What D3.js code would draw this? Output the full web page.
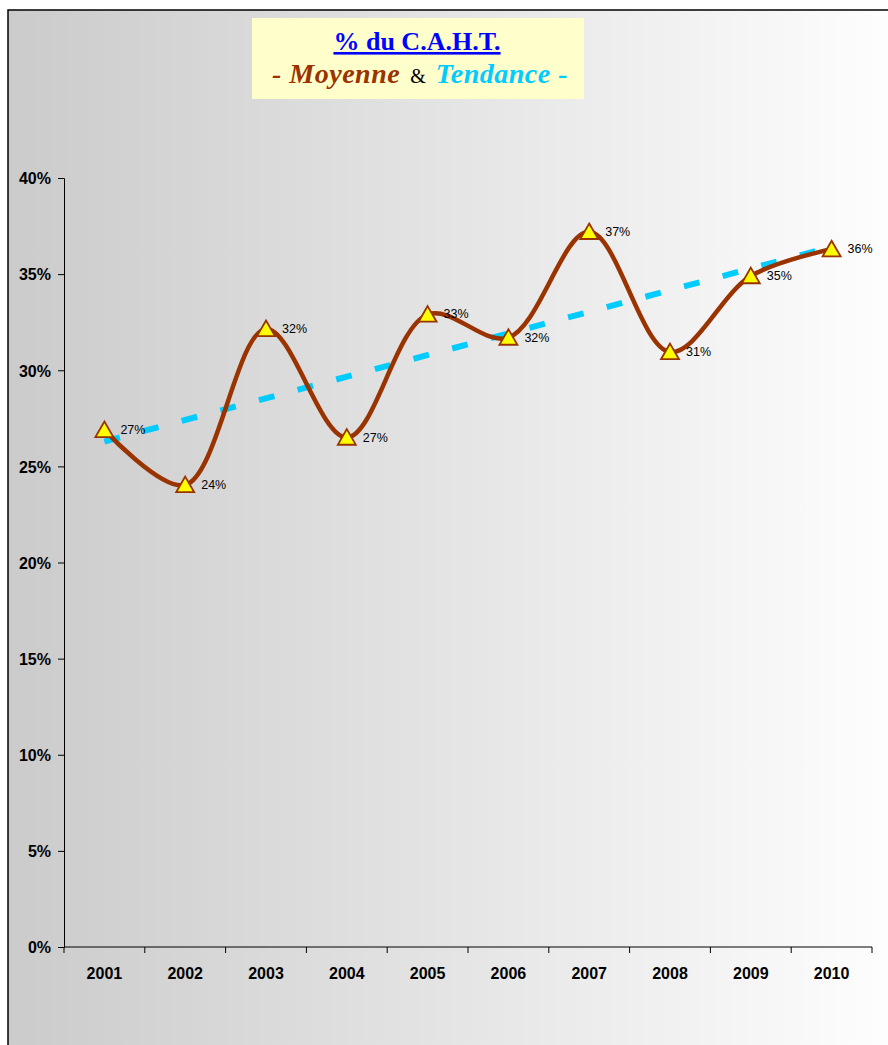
<!DOCTYPE html>
<html><head><meta charset="utf-8">
<script src="https://cdn.jsdelivr.net/npm/d3@7"></script>
<style>html,body{margin:0;padding:0;background:#fff;}svg{display:block;}</style>
</head><body>
<script>
const years = ["2001","2002","2003","2004","2005","2006","2007","2008","2009","2010"];
const values = [26.9, 24.03, 32.15, 26.5, 32.9, 31.7, 37.2, 30.95, 34.9, 36.3];
const yTicks = [0,5,10,15,20,25,30,35,40];

const W = 888, H = 1045;
const svg = d3.select("body").append("svg").attr("width", W).attr("height", H);
const defs = svg.append("defs");
const grad = defs.append("linearGradient").attr("id","bg").attr("x1","0").attr("x2","1").attr("y1","0").attr("y2","0");
grad.append("stop").attr("offset","0").attr("stop-color","#cbcbcb");
grad.append("stop").attr("offset","1").attr("stop-color","#ffffff");

svg.append("rect").attr("x",8).attr("y",10).attr("width",W+20).attr("height",H+20)
  .attr("fill","url(#bg)").attr("stroke","#000").attr("stroke-width",1.5);

const x = d3.scaleBand().domain(years).range([64, 872]);
const y = d3.scaleLinear().domain([0, 40]).range([947, 178]);

// axes
const yAxis = svg.append("g").attr("transform","translate(64,0)")
  .call(d3.axisLeft(y).tickValues(yTicks).tickSize(6).tickFormat(d => d + "%"));
yAxis.selectAll("text").attr("font-family","Arial, Liberation Sans, sans-serif").attr("font-weight","bold")
  .attr("font-size","16px").attr("fill","#000").attr("x",-13).attr("dy","0.36em");
yAxis.selectAll("line,path").attr("stroke","#000");

const xAxis = svg.append("g").attr("transform","translate(0,947)")
  .call(d3.axisBottom(x).tickSize(0).tickPadding(0));
xAxis.select("path").attr("stroke","#000").attr("d","M64,0H872");
xAxis.selectAll("text").attr("font-family","Arial, Liberation Sans, sans-serif").attr("font-weight","bold")
  .attr("font-size","16px").attr("fill","#000").attr("y",32).attr("dy",0);
// category separator ticks
svg.append("g").selectAll("line").data(years.concat(["end"])).join("line")
  .attr("x1",(d,i)=> i < years.length ? x(d) : x.range()[1])
  .attr("x2",(d,i)=> i < years.length ? x(d) : x.range()[1])
  .attr("y1",947).attr("y2",953).attr("stroke","#000");

const cx = d => x(d) + x.bandwidth()/2;

// trend line (linear regression)
const n = values.length;
const xs = values.map((v,i)=>i+1);
const mx = d3.mean(xs), my = d3.mean(values);
const slope = d3.sum(xs.map((xi,i)=>(xi-mx)*(values[i]-my))) / d3.sum(xs.map(xi=>(xi-mx)**2));
const icpt = my - slope*mx;
svg.append("line")
  .attr("x1", cx(years[0])).attr("y1", y(icpt + slope*1))
  .attr("x2", cx(years[n-1])).attr("y2", y(icpt + slope*n))
  .attr("stroke","#00CCFF").attr("stroke-width",6).attr("stroke-dasharray","16,24");

// smoothed series line
const line = d3.line().x((d,i)=>cx(years[i])).y(d=>y(d)).curve(d3.curveCatmullRom.alpha(0.5));
svg.append("path").datum(values).attr("d", line).attr("fill","none")
  .attr("stroke","#993300").attr("stroke-width",4.5);

// markers
const tri = d3.symbol().type(d3.symbolTriangle).size(140);
svg.append("g").selectAll("path").data(values).join("path")
  .attr("d", tri).attr("transform",(d,i)=>`translate(${cx(years[i])},${y(d)+2})`)
  .attr("fill","#FFFF00").attr("stroke","#993300").attr("stroke-width",1.8);

// labels
svg.append("g").selectAll("text").data(values).join("text")
  .attr("x",(d,i)=>cx(years[i])+16).attr("y",d=>y(d)+4)
  .attr("font-family","Arial, Liberation Sans, sans-serif").attr("font-size","12.5px").attr("fill","#000")
  .text(d=>Math.round(d)+"%");

// title box
svg.append("rect").attr("x",252).attr("y",18).attr("width",332).attr("height",81).attr("fill","#FFFFCC");
svg.append("text").attr("x",417).attr("y",50).attr("text-anchor","middle")
  .attr("font-family","Liberation Serif, Times New Roman, serif").attr("font-weight","bold")
  .attr("font-size","26px").attr("fill","#0000FF").attr("text-decoration","underline")
  .text("% du C.A.H.T.");
const t2 = svg.append("text").attr("x",420).attr("y",83).attr("text-anchor","middle")
  .attr("font-family","Liberation Serif, Times New Roman, serif");
t2.append("tspan").attr("font-weight","bold").attr("font-style","italic").attr("font-size","28px")
  .attr("fill","#993300").attr("letter-spacing","0.5px").text("- Moyenne");
t2.append("tspan").attr("font-size","20px").attr("fill","#000").text("\u00a0 & \u00a0");
t2.append("tspan").attr("font-weight","bold").attr("font-style","italic").attr("font-size","28px")
  .attr("fill","#00CCFF").attr("letter-spacing","0.5px").text("Tendance -");
</script>
</body></html>
